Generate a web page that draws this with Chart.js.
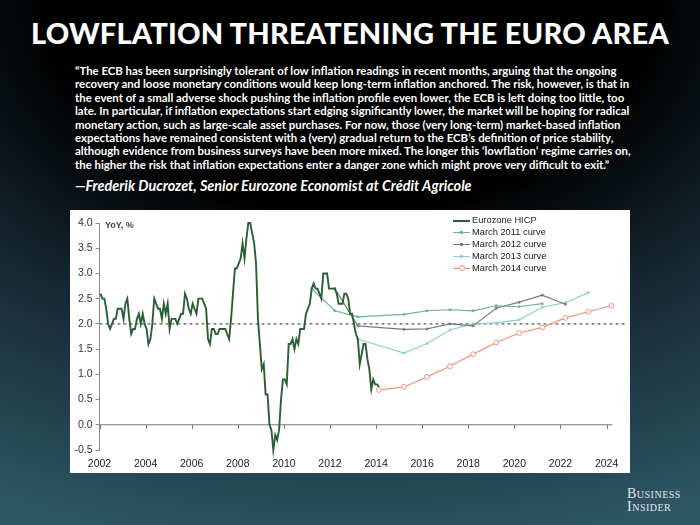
<!DOCTYPE html>
<html>
<head>
<meta charset="utf-8">
<script src="https://cdn.jsdelivr.net/npm/chart.js@4/dist/chart.umd.min.js"></script>
<style>
  body { margin: 0; }
  #page {
    position: relative; width: 700px; height: 525px; overflow: hidden;
    background: radial-gradient(ellipse 115% 105% at 50% 0%, #000 38%, #152630 62%, #2d5664 100%);
    font-family: Lato, "Open Sans", sans-serif; color: #fff;
  }
  #title {
    position: absolute; left: 0; top: 14px; width: 700px; text-align: center;
    font-weight: 900; font-size: 29px; line-height: 38px; letter-spacing: 0.2px;
  }
  #quote {
    position: absolute; left: 75px; top: 64px; width: 600px;
    font-weight: 700; font-size: 11.4px; line-height: 13.4px; white-space: nowrap;
  }
  #author {
    position: absolute; left: 75px; top: 177px;
    font-weight: 700; font-style: italic; font-size: 14.4px; white-space: nowrap;
  }
  #panel { position: absolute; left: 70px; top: 210px; width: 560px; height: 263px; background: #fff; }
  #yunit {
    position: absolute; left: 105px; top: 220px; font: bold 9px "Liberation Sans", Arial, sans-serif; color: #444;
  }
  #legend { position: absolute; left: 453px; top: 214px; font: 9.3px "Liberation Sans", Arial, sans-serif; color: #222; }
  .item { position: relative; height: 12px; line-height: 12px; padding-left: 19px; }
  .sym { position: absolute; left: 0; top: 5.5px; width: 17px; height: 0; }
  .mk { position: absolute; left: 7px; top: -1.5px; width: 3px; height: 3px; }
  #logo {
    position: absolute; left: 627px; top: 488px; font-family: "Liberation Serif", "DejaVu Serif", serif;
    font-size: 14px; line-height: 12.5px; font-variant: small-caps; letter-spacing: 0.5px; color: #e6e6e6;
  }
</style>
</head>
<body>
<div id="page">
  <div id="title">LOWFLATION THREATENING THE EURO AREA</div>
  <div id="quote">“The ECB has been surprisingly tolerant of low inflation readings in recent months, arguing that the ongoing<br>recovery and loose monetary conditions would keep long-term inflation anchored. The risk, however, is that in<br>the event of a small adverse shock pushing the inflation profile even lower, the ECB is left doing too little, too<br>late. In particular, if inflation expectations start edging significantly lower, the market will be hoping for radical<br>monetary action, such as large-scale asset purchases. For now, those (very long-term) market-based inflation<br>expectations have remained consistent with a (very) gradual return to the ECB’s definition of price stability,<br>although evidence from business surveys have been more mixed. The longer this ‘lowflation’ regime carries on,<br>the higher the risk that inflation expectations enter a danger zone which might prove very difficult to exit.”</div>
  <div id="author">—Frederik Ducrozet, Senior Eurozone Economist at Crédit Agricole</div>
  <div id="panel"><canvas id="chart" width="560" height="263"></canvas></div>
  <div id="yunit">YoY, %</div>
  <div id="legend"></div>
  <div id="logo">Business<br>Insider</div>
</div>
<script>
// monthly Eurozone HICP, Jan 2002 .. Feb 2014
const hicpStart = 2002;
const hicp = [
  2.6, 2.5, 2.5, 2.3, 2.0, 1.9, 2.0, 2.1, 2.1, 2.3, 2.3, 2.3,
  2.1, 2.4, 2.5, 2.1, 1.8, 1.9, 1.9, 2.1, 2.2, 2.0, 2.2, 2.0,
  1.9, 1.6, 1.7, 2.0, 2.5, 2.4, 2.3, 2.3, 2.1, 2.4, 2.2, 2.4,
  1.9, 2.1, 2.1, 2.1, 2.0, 2.1, 2.2, 2.2, 2.6, 2.5, 2.3, 2.2,
  2.4, 2.3, 2.2, 2.5, 2.5, 2.5, 2.4, 2.3, 1.7, 1.6, 1.9, 1.9,
  1.8, 1.8, 1.9, 1.9, 1.9, 1.9, 1.8, 1.7, 2.1, 2.6, 3.1, 3.1,
  3.2, 3.3, 3.6, 3.3, 3.7, 4.0, 4.0, 3.8, 3.6, 3.2, 2.1, 1.6,
  1.1, 1.2, 0.6, 0.6, 0.0, -0.1, -0.5, -0.2, -0.3, -0.1, 0.5, 0.9,
  0.9, 0.8, 1.6, 1.6, 1.7, 1.5, 1.7, 1.6, 1.9, 1.9, 1.9, 2.2,
  2.3, 2.4, 2.7, 2.8, 2.7, 2.7, 2.6, 2.5, 3.0, 3.0, 3.0, 2.7,
  2.7, 2.7, 2.7, 2.6, 2.4, 2.4, 2.4, 2.6, 2.6, 2.5, 2.2, 2.2,
  2.0, 1.8, 1.7, 1.2, 1.4, 1.6, 1.6, 1.3, 1.1, 0.7, 0.9, 0.8,
  0.8, 0.75
];

// market-implied curves (dates in years, values in %)
const curve2011Years = [2011.21, 2012.21, 2013.21, 2015.21, 2016.21, 2017.21, 2018.21, 2019.21, 2020.21, 2021.21];
const curve2011 = [2.7, 2.26, 2.14, 2.19, 2.26, 2.28, 2.26, 2.36, 2.34, 2.40];
const curve2012Years = [2012.21, 2013.21, 2015.21, 2016.21, 2017.21, 2018.21, 2019.21, 2020.21, 2021.21, 2022.21];
const curve2012 = [2.7, 1.96, 1.89, 1.90, 2.00, 1.96, 2.31, 2.43, 2.57, 2.39];
const curve2013Years = [2013.21, 2015.21, 2016.21, 2017.21, 2018.21, 2019.21, 2020.21, 2021.21, 2022.21, 2023.21];
const curve2013 = [1.70, 1.42, 1.61, 1.88, 2.00, 2.02, 2.08, 2.33, 2.42, 2.62];
const curve2014Years = [2014.12, 2015.21, 2016.21, 2017.21, 2018.21, 2019.21, 2020.21, 2021.21, 2022.21, 2023.21, 2024.21];
const curve2014 = [0.69, 0.75, 0.95, 1.16, 1.40, 1.63, 1.82, 1.93, 2.12, 2.24, 2.36];

const seriesNames = ["Eurozone HICP", "March 2011 curve", "March 2012 curve", "March 2013 curve", "March 2014 curve"];
const seriesColors = ["#2a5e33", "#6db392", "#7b7b7b", "#8ccfd8", "#f3917e"];

const xTicks = [2002, 2024, 2];      // first, last, step
const yTicks = [-0.5, 4.0, 0.5];
const xMax = 2024.8;
const xAxisEnd = 2024.25;
const target = 2.0;

const pairs = (xs, ys) => ys.map((y, i) => ({ x: xs[i], y }));
const hicpPts = hicp.map((v, i) => ({ x: hicpStart + (i + 0.5) / 12, y: v }));

function curve(idx, xs, ys, hollow) {
  return {
    label: seriesNames[idx],
    data: pairs(xs, ys),
    borderColor: seriesColors[idx],
    borderWidth: 1.2,
    pointStyle: hollow ? "circle" : "rect",
    pointRadius: hollow ? 2.4 : 1.4,
    pointBorderWidth: hollow ? 1 : 0.5,
    pointBackgroundColor: hollow ? "#fff" : seriesColors[idx],
    pointBorderColor: seriesColors[idx],
    clip: false
  };
}

// tick marks hanging under the zero line
const zeroTicks = {
  id: "zeroTicks",
  afterDatasetsDraw(chart) {
    const { ctx, scales: { x, y } } = chart;
    const y0 = y.getPixelForValue(0);
    ctx.save();
    ctx.strokeStyle = "#777";
    ctx.lineWidth = 1;
    for (let v = xTicks[0]; v <= xTicks[1]; v += xTicks[2]) {
      const px = Math.round(x.getPixelForValue(v)) + 0.5;
      ctx.beginPath();
      ctx.moveTo(px, y0);
      ctx.lineTo(px, y0 + 4);
      ctx.stroke();
    }
    ctx.restore();
  }
};

new Chart(document.getElementById("chart"), {
  type: "line",
  data: {
    datasets: [
      {
        label: seriesNames[0], data: hicpPts, borderColor: seriesColors[0],
        borderWidth: 1.9, pointRadius: 0, clip: false
      },
      curve(1, curve2011Years, curve2011),
      curve(2, curve2012Years, curve2012),
      curve(3, curve2013Years, curve2013),
      curve(4, curve2014Years, curve2014, true),
      {
        label: "target", data: [{ x: xTicks[0], y: target }, { x: xMax, y: target }],
        borderColor: "#555", borderWidth: 1.2, borderDash: [3, 3], pointRadius: 0
      },
      {
        label: "zero", data: [{ x: xTicks[0], y: 0 }, { x: xAxisEnd, y: 0 }],
        borderColor: "#777", borderWidth: 1, pointRadius: 0
      }
    ]
  },
  options: {
    responsive: false,
    animation: false,
    layout: { padding: { top: 13, right: 4, left: 0, bottom: 0 } },
    plugins: { legend: { display: false }, tooltip: { enabled: false } },
    elements: { line: { tension: 0 } },
    scales: {
      x: {
        type: "linear", min: xTicks[0], max: xMax,
        grid: { display: false, drawTicks: false },
        border: { display: false },
        ticks: {
          stepSize: xTicks[2], includeBounds: false, padding: 8, maxRotation: 0, autoSkip: false,
          color: "#222", font: { family: "Liberation Sans", size: 10.5 },
          callback: v => (v <= xTicks[1] ? String(v) : "")
        },
        afterFit: s => { s.height = 23; }
      },
      y: {
        min: yTicks[0], max: yTicks[1],
        grid: { drawOnChartArea: false, drawTicks: true, tickLength: 4, color: "#888" },
        border: { display: true, color: "#888" },
        ticks: {
          stepSize: yTicks[2], padding: 3, color: "#333",
          font: { family: "Liberation Sans", size: 10.5 },
          callback: v => v.toFixed(1)
        },
        afterFit: s => { s.width = 29.5; }
      }
    }
  },
  plugins: [zeroTicks]
});

// legend as html, sitting inside the plot
const legend = document.getElementById("legend");
seriesNames.forEach((name, i) => {
  const item = document.createElement("div");
  item.className = "item";
  const sym = document.createElement("div");
  sym.className = "sym";
  sym.style.borderTop = (i === 0 ? 2 : 1.2) + "px solid " + seriesColors[i];
  if (i > 0) {
    const mk = document.createElement("div");
    mk.className = "mk";
    if (i === 4) {
      mk.style.cssText = "left:6px;top:-3.2px;width:4px;height:4px;border-radius:50%;background:#fff;border:1px solid " + seriesColors[i];
    } else {
      mk.style.background = seriesColors[i];
    }
    sym.appendChild(mk);
  }
  item.appendChild(sym);
  item.appendChild(document.createTextNode(name));
  legend.appendChild(item);
});
</script>
</body>
</html>
